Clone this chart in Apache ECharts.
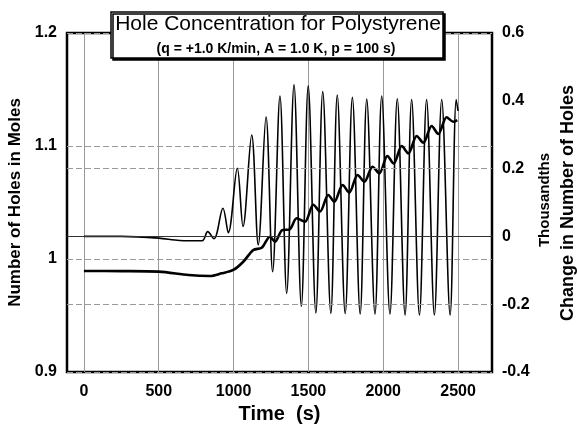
<!DOCTYPE html>
<html>
<head>
<meta charset="utf-8">
<title>Hole Concentration for Polystyrene</title>
<script src="https://cdn.jsdelivr.net/npm/echarts@6/dist/echarts.min.js"></script>
<style>
  html, body { margin: 0; padding: 0; background: #fff; }
  #chart { width: 577px; height: 426px; }
</style>
</head>
<body>
<div id="chart"></div>
<script>
const FONT = '"Liberation Sans", Arial, Helvetica, sans-serif'

// labelled time ticks (s)
const timeTicks = [0, 500, 1000, 1500, 2000, 2500]

// thick curve - number of holes in moles (left axis)
const holesMoles = [
  [0, 0.9894], [250, 0.9893], [500, 0.9888], [700, 0.9858], [842, 0.985],
  [920, 0.9873], [998, 0.9903], [1065, 0.9976], [1132, 1.008], [1188, 1.010],
  [1243, 1.0197], [1277, 1.0153], [1325, 1.0255], [1375, 1.0262], [1422, 1.036],
  [1477, 1.033], [1533, 1.048], [1578, 1.042], [1633, 1.0566], [1673, 1.0507],
  [1729, 1.0655], [1773, 1.0587], [1829, 1.0743], [1874, 1.0684], [1929, 1.0817],
  [1974, 1.0758], [2028, 1.0912], [2070, 1.0845], [2124, 1.1], [2168, 1.0935],
  [2224, 1.1088], [2268, 1.1029], [2324, 1.1177], [2368, 1.1106], [2424, 1.1254],
  [2468, 1.1215], [2495, 1.123]
]

// thin curve - change in number of holes, thousandths (right axis)
const holesChange = [
  [0, 0], [250, 0], [500, -0.005], [640, -0.012], [790, -0.013],
  [827, 0.014], [869, -0.007], [929, 0.083], [965, 0.011], [1025, 0.201],
  [1063, 0.029], [1121, 0.299], [1165, -0.025], [1217, 0.353], [1261, -0.104],
  [1310, 0.414], [1355, -0.168], [1404, 0.447], [1453, -0.206], [1499, 0.444],
  [1550, -0.226], [1596, 0.427], [1650, -0.227], [1693, 0.417], [1746, -0.228],
  [1794, 0.41], [1846, -0.229], [1890, 0.405], [1945, -0.229], [1990, 0.414],
  [2045, -0.229], [2094, 0.406], [2146, -0.232], [2190, 0.404], [2242, -0.232],
  [2290, 0.404], [2342, -0.232], [2391, 0.404], [2447, -0.232], [2488, 0.404],
  [2500, 0.37]
]

// right axis reference lines
const changeLines = [0.2, 0, -0.2]

const tickLabel = { color: '#000', fontSize: 16, fontWeight: 'bold', fontFamily: FONT }

const myChart = echarts.init(document.getElementById('chart'), null, { renderer: 'canvas' })

const option = {
  backgroundColor: '#fff',
  animation: false,
  grid: {
    left: 67,
    right: 85,
    top: 33,
    bottom: 54,
    outerBoundsMode: 'none',
    show: true,
    borderColor: '#000',
    borderWidth: 2.5,
    backgroundColor: 'transparent'
  },
  xAxis: {
    type: 'value',
    min: -113,
    max: 2727,
    name: 'Time  (s)',
    nameLocation: 'middle',
    nameGap: 31,
    nameTextStyle: { color: '#000', fontSize: 20, fontWeight: 'bold', fontFamily: FONT },
    axisLine: { show: false },
    axisTick: { show: false, customValues: timeTicks },
    axisLabel: Object.assign({
      margin: 12,
      customValues: timeTicks,
      formatter: v => String(v)
    }, tickLabel),
    splitLine: { show: true, lineStyle: { color: '#999', width: 1 } }
  },
  yAxis: [
    {
      type: 'value',
      position: 'left',
      min: 0.9,
      max: 1.2,
      interval: 0.1,
      name: 'Number of Holes in Moles',
      nameLocation: 'middle',
      nameGap: 35,
      nameRotate: 90,
      nameTextStyle: { color: '#000', fontSize: 17, fontWeight: 'bold', fontFamily: FONT },
      axisLine: { show: false },
      axisTick: { show: false },
      axisLabel: Object.assign({ margin: 10 }, tickLabel),
      splitLine: { show: true, lineStyle: { color: '#9a9a9a', width: 1, type: [6, 3] } }
    },
    {
      type: 'value',
      position: 'right',
      min: -0.4,
      max: 0.6,
      interval: 0.2,
      axisLine: { show: false },
      axisTick: { show: false },
      axisLabel: Object.assign({ margin: 10 }, tickLabel),
      splitLine: { show: false }
    }
  ],
  series: [
    {
      name: 'Change in Number of Holes',
      type: 'line',
      yAxisIndex: 1,
      data: holesChange,
      smooth: 0.35,
      showSymbol: false,
      lineStyle: { color: '#000', width: 1.6 },
      markLine: {
        silent: true,
        symbol: 'none',
        label: { show: false },
        data: changeLines.map(v => ({
          yAxis: v,
          lineStyle: v === 0
            ? { color: '#333', width: 1, type: 'solid' }
            : { color: '#9a9a9a', width: 1, type: [6, 3] }
        }))
      }
    },
    {
      name: 'Number of Holes in Moles',
      type: 'line',
      yAxisIndex: 0,
      data: holesMoles,
      smooth: 0.3,
      showSymbol: false,
      lineStyle: { color: '#000', width: 2.6 }
    }
  ],
  graphic: [
    {
      type: 'rect',
      z: 100,
      shape: { x: 111, y: 12, width: 332, height: 46 },
      style: {
        fill: '#fff',
        stroke: '#000',
        lineWidth: 1.5,
        shadowColor: '#000',
        shadowOffsetX: 2,
        shadowOffsetY: 2,
        shadowBlur: 0
      }
    },
    {
      type: 'text',
      z: 101,
      x: 278,
      y: 24,
      style: {
        text: 'Hole Concentration for Polystyrene',
        fill: '#000',
        font: '21px ' + FONT,
        align: 'center',
        verticalAlign: 'middle',
        textAlign: 'center',
        textVerticalAlign: 'middle'
      }
    },
    {
      type: 'text',
      z: 101,
      x: 276,
      y: 49,
      style: {
        text: '(q = +1.0 K/min, A = 1.0 K, p = 100 s)',
        fill: '#000',
        font: 'bold 14px ' + FONT,
        align: 'center',
        verticalAlign: 'middle',
        textAlign: 'center',
        textVerticalAlign: 'middle'
      }
    },
    {
      type: 'text',
      x: 545,
      y: 200,
      rotation: Math.PI / 2,
      style: {
        text: 'Thousandths',
        fill: '#000',
        font: 'bold 15px ' + FONT,
        align: 'center',
        verticalAlign: 'middle',
        textAlign: 'center',
        textVerticalAlign: 'middle'
      }
    },
    {
      type: 'text',
      x: 568,
      y: 203,
      rotation: Math.PI / 2,
      style: {
        text: 'Change in Number of Holes',
        fill: '#000',
        font: 'bold 18px ' + FONT,
        align: 'center',
        verticalAlign: 'middle',
        textAlign: 'center',
        textVerticalAlign: 'middle'
      }
    }
  ]
}

myChart.setOption(option)
</script>
</body>
</html>
